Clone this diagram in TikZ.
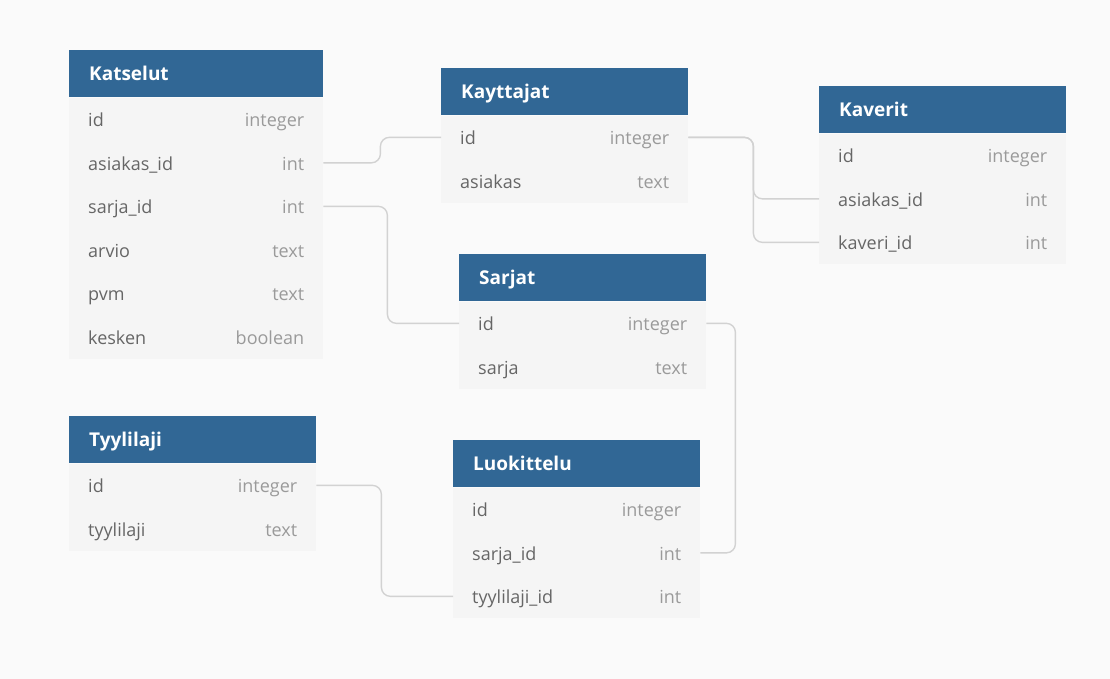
\documentclass[tikz,border=0pt]{standalone}
\usepackage{fontspec}
\setmainfont{Open Sans}
\usetikzlibrary{calc}
\definecolor{hdrblue}{HTML}{316795}
\definecolor{rowbg}{HTML}{F5F5F5}
\definecolor{pagebg}{HTML}{FAFAFA}
\definecolor{namegray}{HTML}{666666}
\definecolor{typegray}{HTML}{9A9A9A}
\definecolor{linkgray}{HTML}{D2D2D2}
\begin{document}
\begin{tikzpicture}
  [x=1pt,y=-1pt,
  hdr/.style={anchor=north west,fill=hdrblue,text=white,
    font=\fontsize{19}{22}\selectfont\bfseries,minimum height=47pt,
    text height=17pt,text depth=2.6pt,
    inner xsep=20pt,inner ysep=0pt,align=left,text width=#1-40pt},
  hdr/.default=247pt,
  field/.style={anchor=north west,fill=rowbg,text=namegray,
    font=\fontsize{18}{21}\selectfont,minimum height=43.5pt,
    text height=17.5pt,text depth=2.5pt,
    inner xsep=19pt,inner ysep=0pt,align=left,text width=#1-38pt},
  field/.default=247pt,
  link/.style={draw=linkgray,line width=1.4pt,rounded corners=9pt}]
  \fill[pagebg] (0,0) rectangle (1110,679);
  \useasboundingbox (0,0) rectangle (1110,679);
  % taulut
  \node[hdr=254pt] (kat) at (69,50) {Katselut};
  \foreach \k/\f/\t [count=\i] in {id/id/integer,asiakas/asiakas\_id/int,
    sarja/sarja\_id/int,arvio/arvio/text,pvm/pvm/text,kesken/kesken/boolean}
  \node[field=254pt] (kat-\k) at ($(kat.south west)+(0,{(\i-1)*43.5})$)
  {\f\hfill\textcolor{typegray}{\t}};
  \node[hdr] (kay) at (441,68) {Kayttajat};
  \foreach \k/\f/\t [count=\i] in {id/id/integer,asiakas/asiakas/text}
  \node[field] (kay-\k) at ($(kay.south west)+(0,{(\i-1)*43.5})$)
  {\f\hfill\textcolor{typegray}{\t}};
  \node[hdr] (kav) at (819,86) {Kaverit};
  \foreach \k/\f/\t [count=\i] in {id/id/integer,asiakas/asiakas\_id/int,
    kaveri/kaveri\_id/int}
  \node[field] (kav-\k) at ($(kav.south west)+(0,{(\i-1)*43.5})$)
  {\f\hfill\textcolor{typegray}{\t}};
  \node[hdr] (sar) at (459,254) {Sarjat};
  \foreach \k/\f/\t [count=\i] in {id/id/integer,sarja/sarja/text}
  \node[field] (sar-\k) at ($(sar.south west)+(0,{(\i-1)*43.5})$)
  {\f\hfill\textcolor{typegray}{\t}};
  \node[hdr] (tyy) at (69,416) {Tyylilaji};
  \foreach \k/\f/\t [count=\i] in {id/id/integer,tyylilaji/tyylilaji/text}
  \node[field] (tyy-\k) at ($(tyy.south west)+(0,{(\i-1)*43.5})$)
  {\f\hfill\textcolor{typegray}{\t}};
  \node[hdr] (luo) at (453,440) {Luokittelu};
  \foreach \k/\f/\t [count=\i] in {id/id/integer,sarja/sarja\_id/int,
    tyylilaji/tyylilaji\_id/int}
  \node[field] (luo-\k) at ($(luo.south west)+(0,{(\i-1)*43.5})$)
  {\f\hfill\textcolor{typegray}{\t}};
  % viiteyhteydet
  \draw[link] (kat-asiakas.east) -- ++(57,0) |- (kay-id.west);
  \draw[link] (kat-sarja.east) -- ++(64,0) |- (sar-id.west);
  \draw[link] (kay-id.east) -- ++(65,0) |- (kav-asiakas.west);
  \draw[link] (kay-id.east) -- ++(65,0) |- (kav-kaveri.west);
  \draw[link] (sar-id.east) -- ++(29,0) |- (luo-sarja.east);
  \draw[link] (tyy-id.east) -- ++(65,0) |- (luo-tyylilaji.west);
\end{tikzpicture}
\end{document}
